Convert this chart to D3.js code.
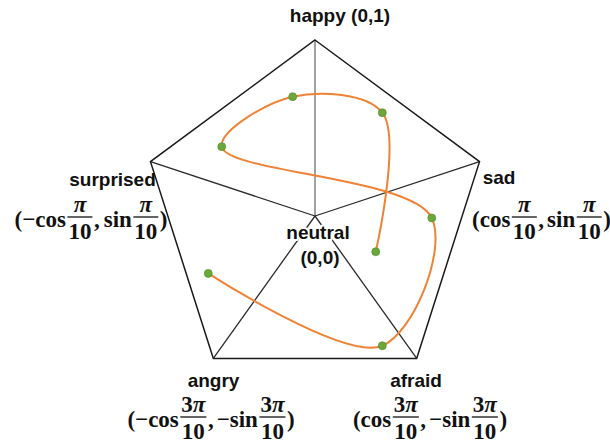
<!DOCTYPE html>
<html>
<head>
<meta charset="utf-8">
<script src="https://cdn.jsdelivr.net/npm/d3@7"></script>
<style>
  html, body { margin: 0; padding: 0; background: #fff; }
  svg { display: block; }
  .lab { font-family: "Liberation Sans", Arial, sans-serif; font-weight: bold; font-size: 19px; fill: #111; }
  .math { font-family: "Liberation Serif", "Times New Roman", serif; font-weight: bold; font-size: 23px; fill: #111; }
  .math .it { font-style: italic; }
</style>
</head>
<body>
<svg id="chart" width="610" height="447"></svg>
<script>
// Emotion vertices on the unit circle (happy, sad, afraid, angry, surprised)
const emotions = ["happy", "sad", "afraid", "angry", "surprised"];
const vertexX = [0, Math.cos(Math.PI / 10), Math.cos(3 * Math.PI / 10), -Math.cos(3 * Math.PI / 10), -Math.cos(Math.PI / 10)];
const vertexY = [1, Math.sin(Math.PI / 10), -Math.sin(3 * Math.PI / 10), -Math.sin(3 * Math.PI / 10), Math.sin(Math.PI / 10)];

// Emotion trajectory samples in the same (x, y) space
const pathX = [0.351, 0.389, -0.129, -0.539, 0.675, 0.389, -0.617];
const pathY = [-0.203, 0.587, 0.678, 0.394, -0.011, -0.737, -0.326];

const svg = d3.select("#chart");
const x = d3.scaleLinear().domain([-1, 1]).range([315 - 173, 315 + 173]);
const y = d3.scaleLinear().domain([-1, 1]).range([216 + 176, 216 - 176]);

const verts = emotions.map((e, i) => ({ name: e, x: vertexX[i], y: vertexY[i] }));

// spokes from neutral to every emotion
svg.append("g").selectAll("line").data(verts).join("line")
  .attr("x1", x(0)).attr("y1", y(0))
  .attr("x2", d => x(d.x)).attr("y2", d => y(d.y))
  .attr("stroke", (d, i) => i === 0 ? "#555" : "#2a2a2a")
  .attr("stroke-width", (d, i) => i === 0 ? 1.1 : 1.3);

// pentagon outline
svg.append("path")
  .attr("d", d3.line().x(d => x(d.x)).y(d => y(d.y))(verts) + "Z")
  .attr("fill", "none").attr("stroke", "#1a1a1a").attr("stroke-width", 1.5)
  .attr("stroke-linejoin", "miter");

// trajectory curve and sample points
const pts = pathX.map((v, i) => ({ x: v, y: pathY[i] }));
svg.append("path")
  .attr("d", d3.line().curve(d3.curveCatmullRom.alpha(0.5)).x(d => x(d.x)).y(d => y(d.y))(pts))
  .attr("fill", "none").attr("stroke", "#ef8234").attr("stroke-width", 2);
svg.append("g").selectAll("circle").data(pts).join("circle")
  .attr("cx", d => x(d.x)).attr("cy", d => y(d.y)).attr("r", 4)
  .attr("fill", "#6aa83c").attr("stroke", "#4f8a2a").attr("stroke-width", 0.6);

// plain labels
function label(txt, cx, base, halo) {
  const t = svg.append("text").attr("class", "lab").attr("x", cx).attr("y", base)
    .attr("text-anchor", "middle").text(txt);
  if (halo) t.attr("stroke", "#fff").attr("stroke-width", 4).attr("paint-order", "stroke").attr("stroke-linejoin", "round");
  return t;
}

// coordinate formulas made of text runs and stacked fractions
function formula(items, pos, base, anchor) {
  const g = svg.append("g").attr("class", "math");
  let cur = 0;
  const placed = [];
  items.forEach(it => {
    if (it.sp) { cur += it.sp; return; }
    if (it.t) {
      const t = g.append("text").attr("y", base).text(it.t);
      const w = t.node().getComputedTextLength();
      placed.push({ node: t, x: cur });
      cur += w;
    } else {
      const pad = 1.5;
      const num = g.append("text").attr("y", base - 15.5).attr("text-anchor", "middle");
      it.num.forEach(p => num.append("tspan").attr("class", p.it ? "it" : null).text(p.s));
      const den = g.append("text").attr("y", base + 12).attr("text-anchor", "middle").text(it.den);
      const w = Math.max(num.node().getComputedTextLength(), den.node().getComputedTextLength()) + 2;
      const bar = g.append("line").attr("y1", base - 10).attr("y2", base - 10)
        .attr("stroke", "#111").attr("stroke-width", 1.3);
      placed.push({ frac: true, num, den, bar, x: cur + pad, w });
      cur += w + 2 * pad;
    }
  });
  const x0 = anchor === "start" ? pos : pos - cur / 2;
  placed.forEach(p => {
    if (p.frac) {
      p.num.attr("x", x0 + p.x + p.w / 2);
      p.den.attr("x", x0 + p.x + p.w / 2);
      p.bar.attr("x1", x0 + p.x).attr("x2", x0 + p.x + p.w);
    } else {
      p.node.attr("x", x0 + p.x);
    }
  });
}

const pi = [{ s: "π", it: true }];
const pi3 = [{ s: "3" }, { s: "π", it: true }];

label("happy (0,1)", 340, 22);

label("surprised", 112.5, 186);
formula([{ t: "(" }, { t: "−cos" }, { num: pi, den: "10" }, { t: "," }, { sp: 4 }, { t: "sin" }, { num: pi, den: "10" }, { t: ")" }], 91, 227, "middle");

label("sad", 499, 184);
formula([{ t: "(" }, { t: "cos" }, { num: pi, den: "10" }, { t: "," }, { sp: 3 }, { t: "sin" }, { num: pi, den: "10" }, { t: ")" }], 472, 227, "start");

label("neutral", 318, 239, true);
label("(0,0)", 320, 264, true);

label("angry", 213.5, 387);
formula([{ t: "(" }, { t: "−cos" }, { num: pi3, den: "10" }, { t: "," }, { sp: 3 }, { t: "−sin" }, { num: pi3, den: "10" }, { t: ")" }], 211, 427, "middle");

label("afraid", 416, 387);
formula([{ t: "(" }, { t: "cos" }, { num: pi3, den: "10" }, { t: "," }, { sp: 3 }, { t: "−sin" }, { num: pi3, den: "10" }, { t: ")" }], 430, 427, "middle");
</script>
</body>
</html>
